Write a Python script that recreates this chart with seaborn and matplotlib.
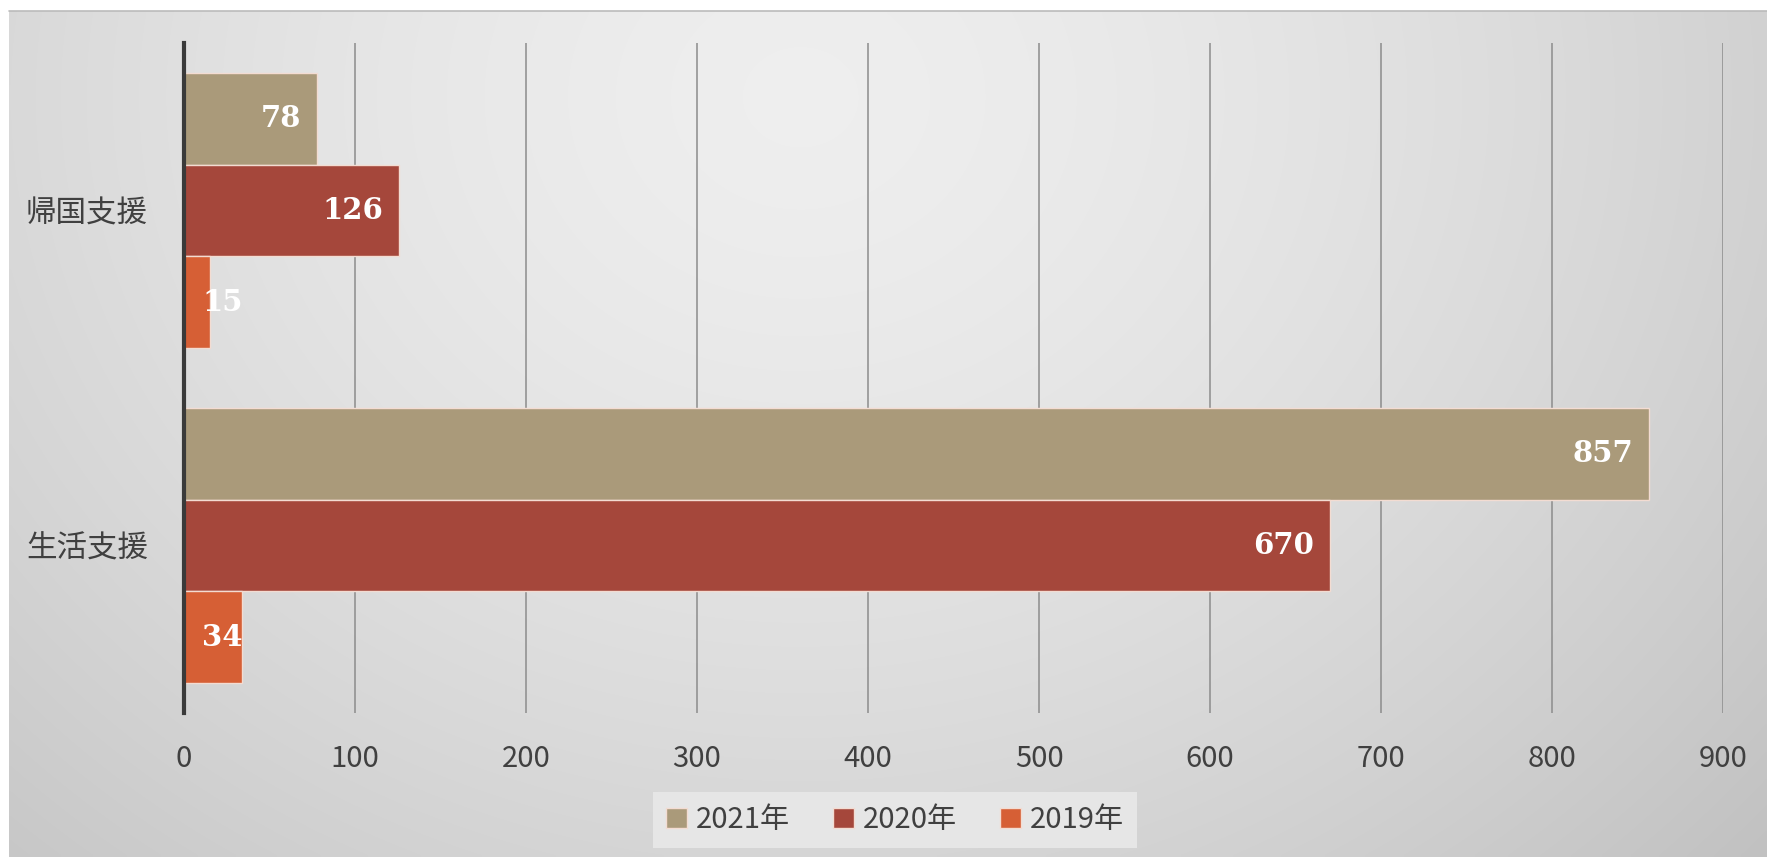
import numpy as np
import pandas as pd
import matplotlib
matplotlib.use("Agg")
import matplotlib.pyplot as plt
import seaborn as sns

# ---- data ----
categories = ["帰国支援", "生活支援"]
years = ["2021年", "2020年", "2019年"]
values_2021 = [78, 857]
values_2020 = [126, 670]
values_2019 = [15, 34]
xticks = [0, 100, 200, 300, 400, 500, 600, 700, 800, 900]

colors = ["#AA9A7A", "#A5473B", "#D65F35"]

rows = []
for yr, vals in zip(years, [values_2021, values_2020, values_2019]):
    for c, v in zip(categories, vals):
        rows.append({"category": c, "year": yr, "value": v})
df = pd.DataFrame(rows)

sns.set_theme(style="white")
plt.rcParams["font.family"] = ["Noto Sans CJK JP", "DejaVu Sans"]

W, H = 1767, 857
fig = plt.figure(figsize=(W / 100, H / 100), dpi=100)
fig.patch.set_facecolor("white")

# background gradient panel
bg = fig.add_axes([9 / W, 0, 1 - 9 / W, 1 - 11 / H])
yy, xx = np.mgrid[0:1:200j, 0:1:400j]
r = np.sqrt(((xx - 0.45) / 0.72) ** 2 + ((yy - 0.1) / 1.3) ** 2)
g = 0.935 - 0.17 * np.clip(r, 0, 1.2) ** 1.5
img = np.dstack([g, g, g])
bg.imshow(img, aspect="auto", extent=[0, 1, 1, 0], interpolation="bilinear")
bg.set_axis_off()
bg.set_zorder(-10)
fig.add_artist(plt.Line2D([9 / W, 1], [1 - 11 / H, 1 - 11 / H], color="#bbbbbb", lw=1.2))

left, right = 184 / W, 1723 / W
bottom, top = 1 - 713 / H, 1 - 43 / H
ax = fig.add_axes([left, bottom, right - left, top - bottom])
ax.set_facecolor("none")

sns.barplot(data=df, y="category", x="value", hue="year", hue_order=years,
            order=categories, orient="h", palette=colors, width=0.82,
            saturation=1, edgecolor="#f3dcd2", linewidth=1.0, ax=ax, zorder=3)

ax.set_xlim(0, 900)
ax.set_ylim(1.5, -0.5)
ax.set_xticks(xticks)
ax.set_xticklabels([str(t) for t in xticks])
ax.grid(axis="x", color="#8c8c8c", lw=1.1, zorder=0)
ax.grid(axis="y", visible=False)
for s in ["top", "right", "bottom"]:
    ax.spines[s].set_visible(False)
ax.spines["left"].set_color("#3a3a3a")
ax.spines["left"].set_linewidth(3)
ax.spines["left"].set_zorder(5)
ax.set_xlabel("")
ax.set_ylabel("")
ax.tick_params(axis="x", length=0, pad=22, labelsize=21, labelcolor="#404040")
ax.tick_params(axis="y", length=0, pad=26, labelsize=22, labelcolor="#404040")

# data labels
px_per_unit = (1723 - 184) / 900
for cont in ax.containers:
    for bar in cont:
        w = bar.get_width()
        yc = bar.get_y() + bar.get_height() / 2
        if w * px_per_unit > 80:
            ax.annotate(f"{int(round(w))}", (w, yc), xytext=(-16, 0),
                        textcoords="offset pixels", ha="right", va="center",
                        color="white", fontsize=21, fontweight="bold",
                        family="DejaVu Serif", zorder=6)
        else:
            ax.annotate(f"{int(round(w))}", (0, yc), xytext=(18, 0),
                        textcoords="offset pixels", ha="left", va="center",
                        color="white", fontsize=21, fontweight="bold",
                        family="DejaVu Serif", zorder=6)

leg = ax.legend(loc="center", bbox_to_anchor=(895 / W, 1 - 820 / H),
                bbox_transform=fig.transFigure, ncol=3, frameon=True,
                fontsize=21, handlelength=0.7, handleheight=0.7,
                handletextpad=0.3, columnspacing=1.5, borderpad=0.45,
                fancybox=False)
leg.get_frame().set_facecolor("#e6e6e6")
leg.get_frame().set_edgecolor("none")
leg.get_frame().set_alpha(1)
for t in leg.get_texts():
    t.set_color("#404040")

fig.savefig("out.png", dpi=100)
